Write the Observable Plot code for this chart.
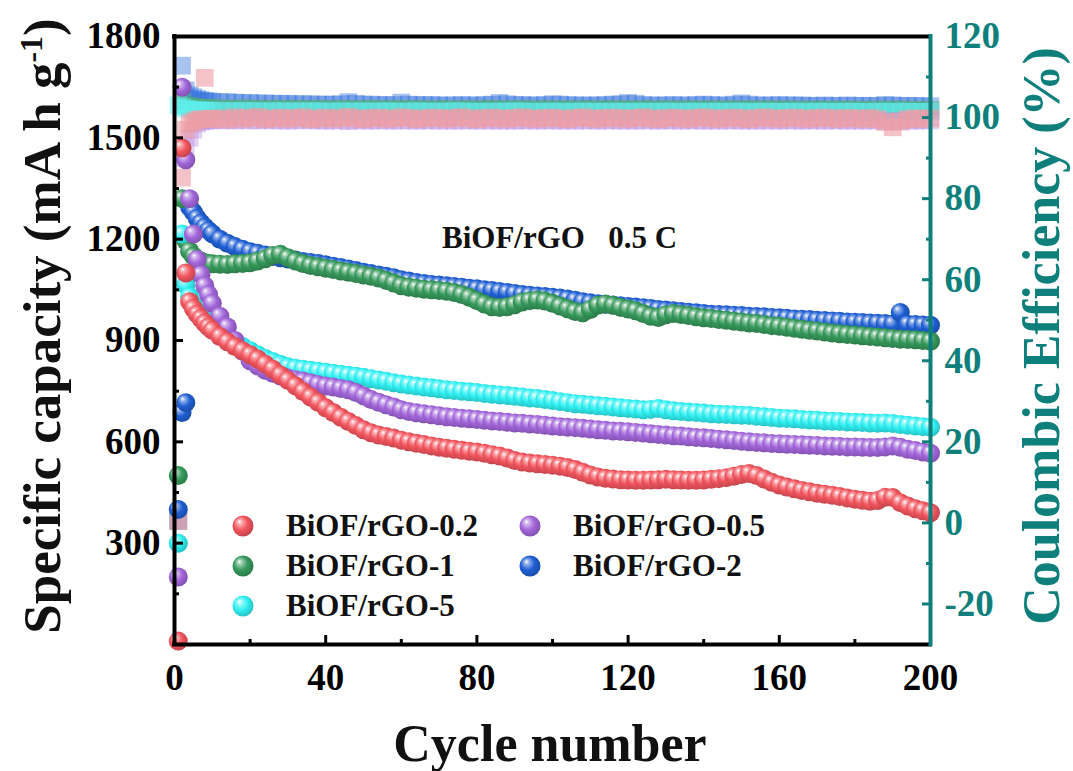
<!DOCTYPE html>
<html><head><meta charset="utf-8">
<script src="https://cdn.jsdelivr.net/npm/d3@7"></script>
<script src="https://cdn.jsdelivr.net/npm/@observablehq/plot@0.6"></script>
<style>
html,body{margin:0;padding:0;background:#fff;}
#wrap{position:relative;width:1073px;height:771px;overflow:hidden;font-family:"Liberation Serif","Times New Roman",serif;font-weight:bold;}
#wrap svg.plotsvg{position:absolute;left:0;top:0;}
.ov{position:absolute;white-space:pre;line-height:1;}
</style></head><body>
<div id="wrap"></div>
<script>
// ---------------- data ----------------
const cycles = [1,2,3,4,5,6,7,8,9,10,
 12,14,16,18,20,22,24,26,28,30,
 32,34,36,38,40,42,44,46,48,50,
 52,54,56,58,60,62,64,66,68,70,
 72,74,76,78,80,82,84,86,88,90,
 92,94,96,98,100,102,104,106,108,110,
 112,114,116,118,120,122,124,126,128,130,
 132,134,136,138,140,142,144,146,148,150,
 152,154,156,158,160,162,164,166,168,170,
 172,174,176,178,180,182,184,186,188,190,
 192,194,196,198,200];

const seriesNames = ["BiOF/rGO-0.2","BiOF/rGO-0.5","BiOF/rGO-1","BiOF/rGO-2","BiOF/rGO-5"];

// specific capacity (mA h g-1)
const capRed = [10,1470,1100,1015,995,978,965,952,940,930,
 912,896,882,870,858,845,830,815,798,782,
 766,749,733,717,701,687,673,660,648,636,
 627,620,616,611,605,600,596,592,588,584,
 581,578,575,572,570,566,562,558,552,545,
 540,537,535,533,531,528,524,518,510,502,
 496,492,490,488,487,486,486,487,488,489,
 488,487,486,486,487,489,491,494,498,503,
 506,500,490,480,472,466,461,456,452,448,
 445,442,438,434,430,427,424,426,436,435,
 420,410,402,396,390];
const capPurple = [200,1650,1435,1320,1215,1140,1095,1062,1036,1010,
 972,940,900,868,840,825,812,803,795,789,
 784,780,775,770,765,762,758,754,746,736,
 725,717,710,703,695,690,686,683,680,677,
 674,672,670,668,666,664,662,660,658,656,
 655,653,651,649,647,645,643,642,640,638,
 636,634,632,631,630,628,626,624,622,620,
 618,617,615,613,612,610,608,606,604,602,
 600,598,597,595,594,593,592,591,590,589,
 588,587,586,585,585,584,583,583,585,588,
 584,578,574,570,566];
const capGreen = [500,1320,1195,1165,1150,1140,1135,1130,1128,1127,
 1126,1125,1127,1128,1130,1135,1142,1152,1155,1145,
 1135,1128,1122,1118,1114,1110,1106,1102,1098,1094,
 1090,1085,1078,1070,1062,1058,1055,1052,1050,1048,
 1046,1042,1036,1028,1018,1008,1000,998,1000,1006,
 1014,1018,1020,1017,1010,1002,994,986,982,992,
 1004,1008,1004,998,993,988,980,972,968,976,
 980,977,974,970,967,965,962,960,957,955,
 952,950,947,944,942,939,936,933,930,928,
 925,922,920,918,916,914,912,910,908,906,
 904,903,902,900,898];
const capBlue = [400,687,716,1295,1280,1262,1248,1236,1226,1216,
 1200,1188,1178,1170,1163,1158,1153,1149,1145,1141,
 1138,1134,1131,1128,1124,1120,1116,1112,1107,1102,
 1098,1094,1090,1086,1080,1076,1072,1069,1066,1064,
 1062,1060,1058,1055,1053,1050,1048,1045,1042,1039,
 1036,1034,1032,1030,1028,1026,1023,1019,1015,1012,
 1009,1007,1005,1003,1001,999,997,995,992,990,
 988,986,984,982,980,978,977,976,975,974,
 972,971,970,968,967,966,964,963,962,960,
 959,958,957,955,954,953,952,951,950,949,
 983,948,947,946,945];
const capCyan = [300,1215,1065,1030,1005,988,974,962,952,945,
 928,912,897,882,870,858,847,838,830,822,
 818,815,812,809,806,803,800,797,794,791,
 787,783,779,775,771,768,765,762,760,757,
 754,752,750,748,746,743,741,739,737,735,
 733,730,728,725,722,719,716,713,711,709,
 707,705,703,701,699,697,695,696,699,695,
 692,690,688,687,685,683,682,681,680,679,
 678,676,674,672,670,669,668,666,665,664,
 662,661,660,659,658,657,656,655,656,654,
 651,649,647,645,643];

// Coulombic efficiency (%)
const ceRed = [0.5,85.2,97.0,98.5,99.0,99.4,99.6,109.8,99.7,99.7,
 99.8,99.5,100.1,99.7,99.9,100.2,99.6,99.8,100.0,99.7,
 99.9,100.1,99.6,99.8,100.0,99.7,99.9,100.2,99.8,99.6,
 99.9,100.0,99.7,99.8,100.1,99.9,99.6,99.8,100.0,99.9,
 99.7,99.9,100.1,99.8,99.6,99.9,100.0,99.8,99.7,99.9,
 100.1,99.8,99.7,99.9,100.0,99.8,99.6,99.9,100.1,99.8,
 99.7,99.9,100.0,99.8,99.7,99.9,100.1,99.8,99.6,99.9,
 100.0,99.8,99.7,99.9,100.1,99.8,99.7,99.9,100.0,99.8,
 99.6,99.9,100.1,99.8,99.7,99.9,100.0,99.8,99.7,99.9,
 100.0,99.8,99.7,99.9,99.8,99.7,99.9,99.6,98.9,97.6,
 99.0,99.6,99.8,99.7,99.8];
const cePurple = [0.5,90.0,93.0,95.0,97.0,98.5,99.0,99.2,99.3,99.3,
 99.4,99.3,99.3,99.4,99.3,99.3,99.4,99.3,99.3,99.2,
 99.3,99.4,99.3,99.3,99.2,99.3,99.3,99.1,99.3,99.3,
 99.2,99.3,99.3,99.2,99.3,99.3,99.2,99.3,99.3,99.2,
 99.3,99.2,99.3,99.3,99.2,99.3,99.3,99.2,99.3,99.2,
 99.3,99.3,99.2,99.3,99.3,99.2,99.3,99.2,99.3,99.3,
 99.2,99.3,99.3,99.2,99.3,99.2,99.3,99.3,99.2,99.3,
 99.3,99.2,99.3,99.3,99.2,99.3,99.2,99.3,99.3,99.2,
 99.3,99.2,99.3,99.3,99.2,99.3,99.3,99.2,99.3,99.3,
 99.2,99.3,99.3,99.2,99.3,99.2,99.3,99.3,99.1,99.0,
 99.2,99.3,99.2,99.3,99.3];
const ceGreen = [0.5,104.0,103.0,102.8,102.6,102.5,102.4,102.4,102.3,102.3,
 102.3,102.2,102.2,102.3,102.2,102.2,102.1,102.2,102.2,102.1,
 102.2,102.1,102.1,102.2,102.1,102.1,102.2,102.1,102.1,102.1,
 102.2,102.1,102.1,102.1,102.2,102.1,102.1,102.1,102.0,102.1,
 102.1,102.0,102.1,102.1,102.0,102.1,102.2,102.1,102.0,102.1,
 102.1,102.0,102.0,102.1,102.1,102.0,102.1,102.0,102.1,102.1,
 102.0,102.1,102.1,102.0,102.1,102.0,102.1,102.0,102.0,102.1,
 102.0,102.0,102.1,102.0,102.0,102.1,102.0,102.0,102.0,102.1,
 102.0,102.0,102.0,102.1,102.0,102.0,102.0,102.0,101.9,102.0,
 102.0,101.9,102.0,102.0,101.9,102.0,101.9,102.0,101.9,102.0,
 101.9,102.0,101.9,101.9,101.9];
const ceBlue = [0.5,112.8,106.7,105.5,105.0,104.6,104.3,104.1,104.0,103.9,
 103.8,103.8,103.7,103.6,103.6,103.5,103.5,103.4,103.4,103.4,
 103.3,103.3,103.3,103.2,103.2,103.2,103.3,103.8,103.4,103.2,
 103.2,103.1,103.1,103.1,103.7,103.2,103.1,103.1,103.1,103.0,
 103.0,103.0,103.1,103.0,103.0,103.1,103.2,103.6,103.3,103.1,
 103.1,103.0,103.0,103.1,103.3,103.2,103.1,103.0,103.0,103.0,
 103.0,103.1,103.2,103.3,103.6,103.4,103.1,103.0,103.0,103.0,
 103.1,103.0,103.0,103.1,103.2,103.1,103.0,103.0,103.2,103.5,
 103.2,103.0,103.0,103.0,103.1,103.0,103.0,103.0,102.9,102.9,
 103.0,102.9,102.9,103.0,102.9,102.9,102.9,102.9,103.1,103.0,
 102.9,102.9,102.9,102.8,102.8];
const ceCyan = [103.0,102.6,102.2,102.0,101.9,101.8,101.8,101.7,101.7,101.7,
 101.7,101.6,101.6,101.7,101.6,101.6,101.5,101.6,101.6,101.5,
 101.6,101.5,101.6,101.6,101.5,101.5,101.6,101.5,101.5,101.6,
 101.5,101.5,101.6,101.5,101.5,101.5,101.6,101.5,101.5,101.5,
 101.5,101.6,101.5,101.5,101.5,101.4,101.5,101.5,101.5,101.6,
 101.5,101.5,101.4,101.5,101.5,101.5,101.4,101.5,101.5,101.5,
 101.4,101.5,101.5,101.5,101.4,101.5,101.5,101.4,101.5,101.5,
 101.5,101.4,101.5,101.5,101.4,101.5,101.5,101.4,101.5,101.5,
 101.4,101.5,101.5,101.4,101.5,101.4,101.5,101.5,101.4,101.5,
 101.5,101.4,101.5,101.4,101.5,101.4,101.4,101.5,101.4,101.5,
 101.4,101.5,101.4,101.4,101.5];

// axis ticks
const xLabelTicks = [0,40,80,120,160,200];
const xMajorTicks = [40,80,120,160];
const xMinorTicks = [20,60,100,140,180];
const capLabelTicks = [300,600,900,1200,1500,1800];
const capMajorTicks = [300,600,900,1200,1500];
const capMinorTicks = [150,450,750,1050,1350,1650];
const ceLabelTicks = [-20,0,20,40,60,80,100,120];
const ceMajorTicks = [-20,0,20,40,60,80,100];
const ceMinorTicks = [-10,10,30,50,70,90,110];

// ---------------- style ----------------
const teal = "#0e7f7b";
const colors = {red:"#f2555e", purple:"#a266da", green:"#36995b", blue:"#1f5fd3", cyan:"#30f0f2"};
const ceFill = {red:"#ee9ea4", purple:"#b98be6", green:"#4fae74", blue:"#2f6fdc", cyan:"#5ff2f2"};
const ceOpacity = {red:0.62, purple:0.4, green:0.45, blue:0.42, cyan:0.45};
const CE_MIN = -30, CE_MAX = 120, CAP_MAX = 1800;
const ceToCap = v => (v - CE_MIN) * CAP_MAX / (CE_MAX - CE_MIN);

// gradient defs for spheres (hidden svg)
const defsSvg = d3.select("body").insert("svg", ":first-child")
  .attr("width", 0).attr("height", 0).style("position", "absolute");
const defs = defsSvg.append("defs");
for (const [k, c] of Object.entries(colors)) {
  const g = defs.append("radialGradient").attr("id", "g-" + k)
    .attr("cx", "0.45").attr("cy", "0.45").attr("r", "0.6")
    .attr("fx", "0.32").attr("fy", "0.28");
  g.append("stop").attr("offset", "0").attr("stop-color", "#ffffff");
  g.append("stop").attr("offset", "0.2").attr("stop-color", d3.interpolateRgb(c, "#ffffff")(0.5));
  g.append("stop").attr("offset", "0.55").attr("stop-color", c);
  g.append("stop").attr("offset", "1").attr("stop-color", d3.color(c).darker(0.7).formatHex());
}

const series = [
  {key:"blue", cap:capBlue, ce:ceBlue},
  {key:"green", cap:capGreen, ce:ceGreen},
  {key:"cyan", cap:capCyan, ce:ceCyan},
  {key:"purple", cap:capPurple, ce:cePurple},
  {key:"red", cap:capRed, ce:ceRed}
];
const tables = series.map(s => ({
  key: s.key,
  rows: cycles.map((c, i) => ({cycle: c, cap: s.cap[i], ceY: ceToCap(s.ce[i])}))
}));

const font = "'Liberation Serif','Times New Roman',serif";
const marks = [];
// CE squares
for (const t of tables) {
  marks.push(Plot.dot(t.rows, {x: "cycle", y: "ceY", symbol: "square", r: 10,
    fill: ceFill[t.key], fillOpacity: ceOpacity[t.key], stroke: "none"}));
}
// capacity spheres
for (const t of tables) {
  marks.push(Plot.dot(t.rows, {x: "cycle", y: "cap", r: 9.5, fill: `url(#g-${t.key})`, stroke: "none"}));
}
// frame
marks.push(Plot.ruleY([0], {stroke: "black", strokeWidth: 4, strokeLinecap: "square"}));
marks.push(Plot.ruleY([CAP_MAX], {stroke: "black", strokeWidth: 4, strokeLinecap: "square"}));
marks.push(Plot.ruleX([0], {stroke: "black", strokeWidth: 4, strokeLinecap: "square"}));
marks.push(Plot.ruleX([200], {stroke: teal, strokeWidth: 4, strokeLinecap: "square"}));
// bottom axis
marks.push(Plot.axisX(xMajorTicks, {tickSize: -9, strokeWidth: 3, stroke: "black", fill: "none", label: null}));
marks.push(Plot.axisX(xMinorTicks, {tickSize: -5, strokeWidth: 3, stroke: "black", fill: "none", label: null}));
marks.push(Plot.axisX(xLabelTicks, {tickSize: 0, tickPadding: 19, fontSize: 37, fontWeight: "bold", fill: "black", label: null, tickFormat: d => String(d)}));
// left axis
marks.push(Plot.axisY(capMajorTicks, {anchor: "left", tickSize: -9, strokeWidth: 3, stroke: "black", fill: "none", label: null}));
marks.push(Plot.axisY(capMinorTicks, {anchor: "left", tickSize: -5, strokeWidth: 3, stroke: "black", fill: "none", label: null}));
marks.push(Plot.axisY(capLabelTicks, {anchor: "left", tickSize: 0, tickPadding: 14, fontSize: 37, fontWeight: "bold", fill: "black", label: null, tickFormat: d => String(d)}));
// right axis (CE)
marks.push(Plot.axisY(ceMajorTicks.map(ceToCap), {anchor: "right", tickSize: -9, strokeWidth: 3, stroke: teal, fill: "none", label: null}));
marks.push(Plot.axisY(ceMinorTicks.map(ceToCap), {anchor: "right", tickSize: -5, strokeWidth: 3, stroke: teal, fill: "none", label: null}));
marks.push(Plot.axisY(ceLabelTicks.map(ceToCap), {anchor: "right", tickSize: 0, tickPadding: 14, fontSize: 37, fontWeight: "bold", fill: teal, label: null,
  tickFormat: d => String(Math.round(d * (CE_MAX - CE_MIN) / CAP_MAX + CE_MIN))}));

const svg = Plot.plot({
  width: 1073, height: 771,
  marginLeft: 174, marginRight: 143, marginTop: 36, marginBottom: 127,
  x: {domain: [0, 200]},
  y: {domain: [0, CAP_MAX]},
  style: {fontFamily: font, background: "transparent", overflow: "visible"},
  marks
});
svg.classList.add("plotsvg");
const wrap = document.getElementById("wrap");
wrap.appendChild(svg);

// ---------------- overlays (text) ----------------
function addText(html, styles) {
  const d = document.createElement("div");
  d.className = "ov";
  d.innerHTML = html;
  Object.assign(d.style, styles);
  wrap.appendChild(d);
  return d;
}
// annotation
addText("BiOF/rGO   0.5 C", {left: "442px", top: "222px", fontSize: "31px", color: "#111"});
// axis titles
addText("Cycle number", {left: "0px", width: "1100px", textAlign: "center", top: "718px", fontSize: "52px", color: "#111"});
addText("Specific capacity (mA h g<sup style='font-size:0.6em;vertical-align:0.55em'>-1</sup>)",
  {left: "42px", top: "326px", fontSize: "53px", color: "#111", transform: "translate(-50%,-50%) rotate(-90deg)"});
addText("Coulombic Efficiency (%)",
  {left: "1042px", top: "336px", fontSize: "52px", color: teal, transform: "translate(-50%,-50%) rotate(-90deg)"});

// legend
const legendOrder = [["red",0],["purple",1],["green",2],["blue",3],["cyan",4]];
const legendPos = [[243,526],[530,526],[243,566],[530,566],[243,606]];
legendOrder.forEach(([k, idx], i) => {
  const [cx, cy] = legendPos[i];
  const s = d3.create("svg").attr("width", 24).attr("height", 24)
    .style("position", "absolute").style("left", (cx - 12) + "px").style("top", (cy - 12) + "px");
  s.append("circle").attr("cx", 12).attr("cy", 12).attr("r", 10.5).attr("fill", `url(#g-${k})`);
  wrap.appendChild(s.node());
  addText(seriesNames[idx], {left: (cx + 43) + "px", top: (cy - 16) + "px", fontSize: "31px", color: "#111"});
});
</script>
</body></html>
